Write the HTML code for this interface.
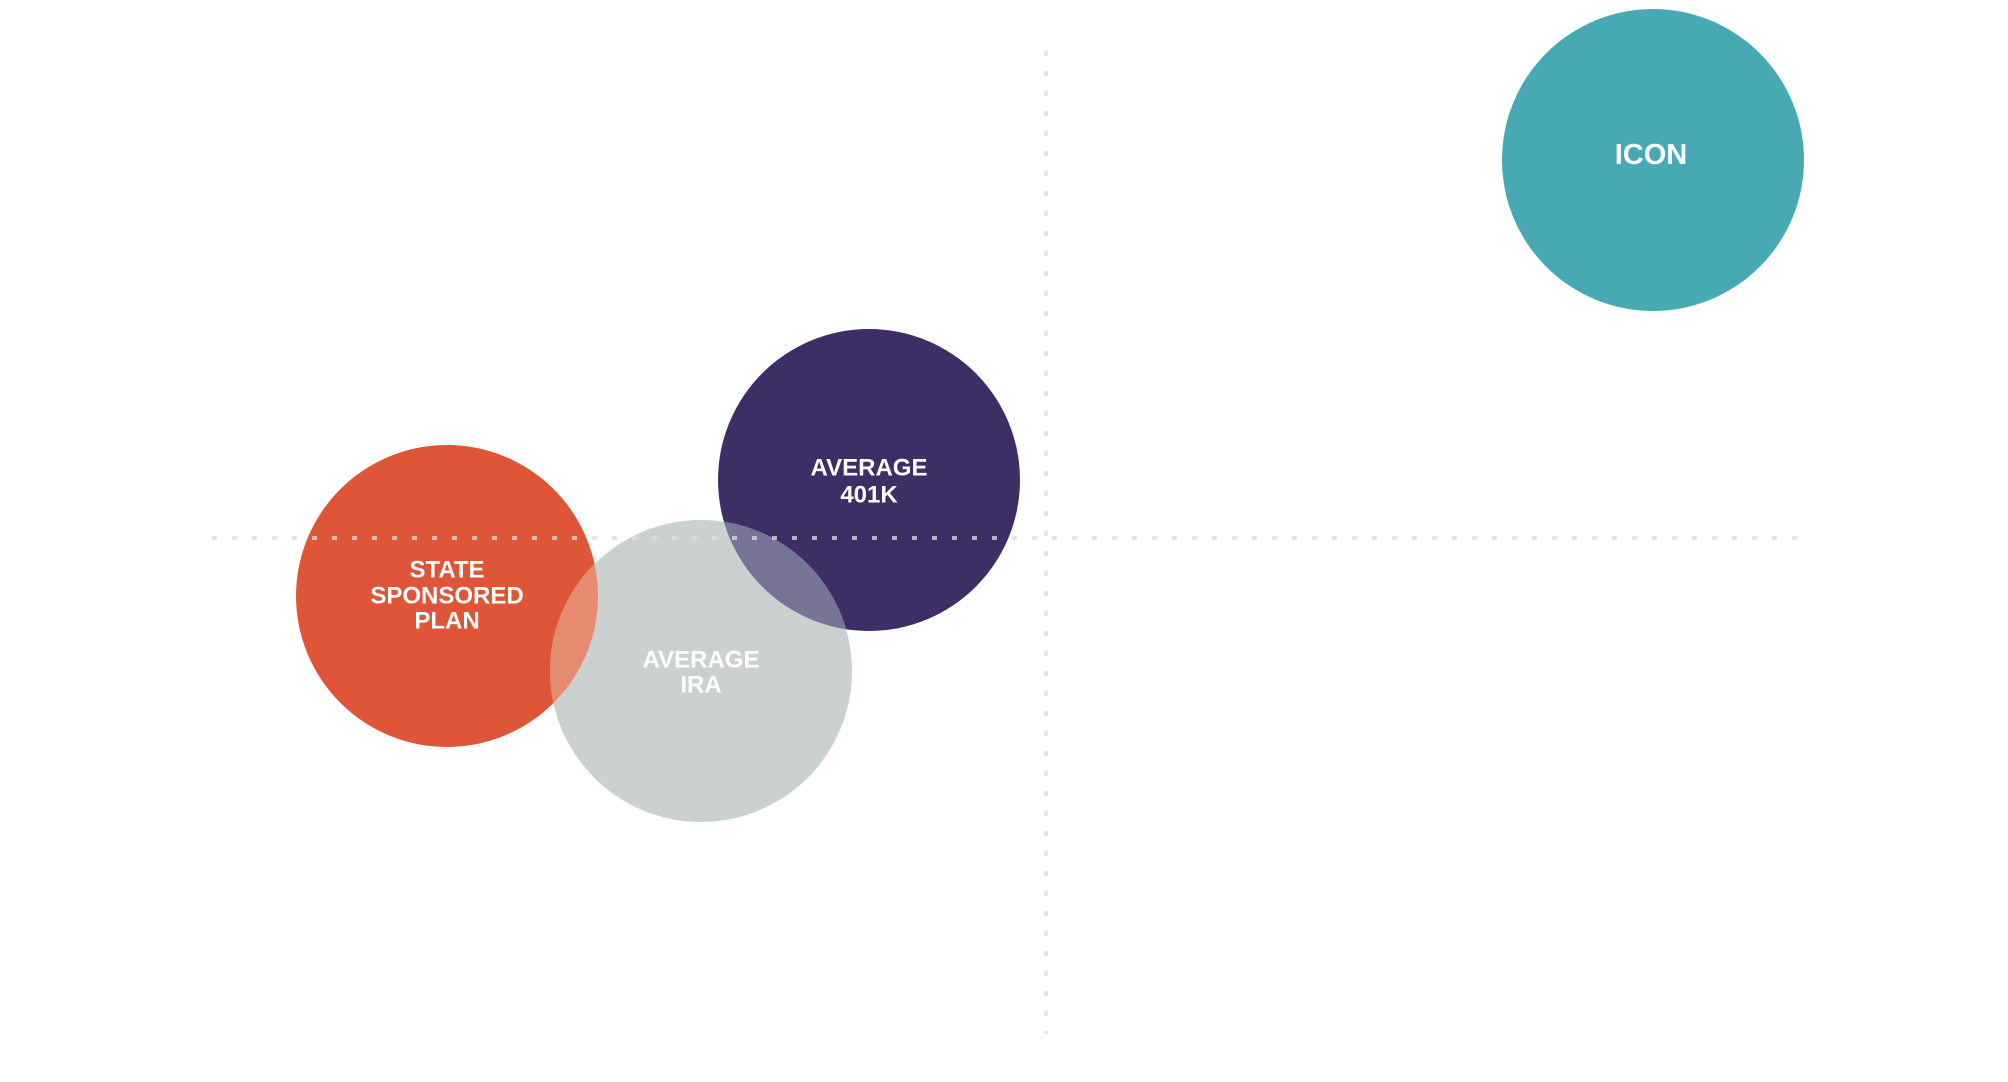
<!DOCTYPE html>
<html><head><style>
html,body{margin:0;padding:0;background:#fff;}
svg{display:block;}
text{font-family:"Liberation Sans",sans-serif;font-weight:bold;fill:#fff;text-anchor:middle;dominant-baseline:central;}
</style></head><body>
<svg width="2008" height="1082" viewBox="0 0 2008 1082">
<defs>
<clipPath id="cg"><circle cx="701" cy="671" r="151"/></clipPath>
</defs>
<circle cx="447" cy="596" r="151" fill="#df5537"/>
<circle cx="869" cy="480" r="151" fill="#3d2e65"/>
<circle cx="701" cy="671" r="151" fill="#cbd1cf"/>
<g clip-path="url(#cg)">
<circle cx="447" cy="596" r="151" fill="#e68a72"/>
<circle cx="869" cy="480" r="151" fill="#787497"/>
</g>
<circle cx="1653" cy="160" r="151" fill="#47aab2"/>
<line x1="212" y1="538" x2="1805" y2="538" stroke="#ddd" stroke-opacity="0.75" stroke-width="4" stroke-dasharray="5 15"/>
<line x1="1046" y1="51" x2="1046" y2="1034" stroke="#ddd" stroke-opacity="0.75" stroke-width="4" stroke-dasharray="5 15"/>
<g font-size="24" letter-spacing="0">
<text x="447" y="570">STATE</text>
<text x="447" y="596">SPONSORED</text>
<text x="447" y="621">PLAN</text>
<text x="869" y="468">AVERAGE</text>
<text x="869" y="495">401K</text>
<text x="701" y="660">AVERAGE</text>
<text x="701" y="685">IRA</text>
</g>
<text x="1651" y="155" font-size="29">ICON</text>
</svg>
</body></html>
